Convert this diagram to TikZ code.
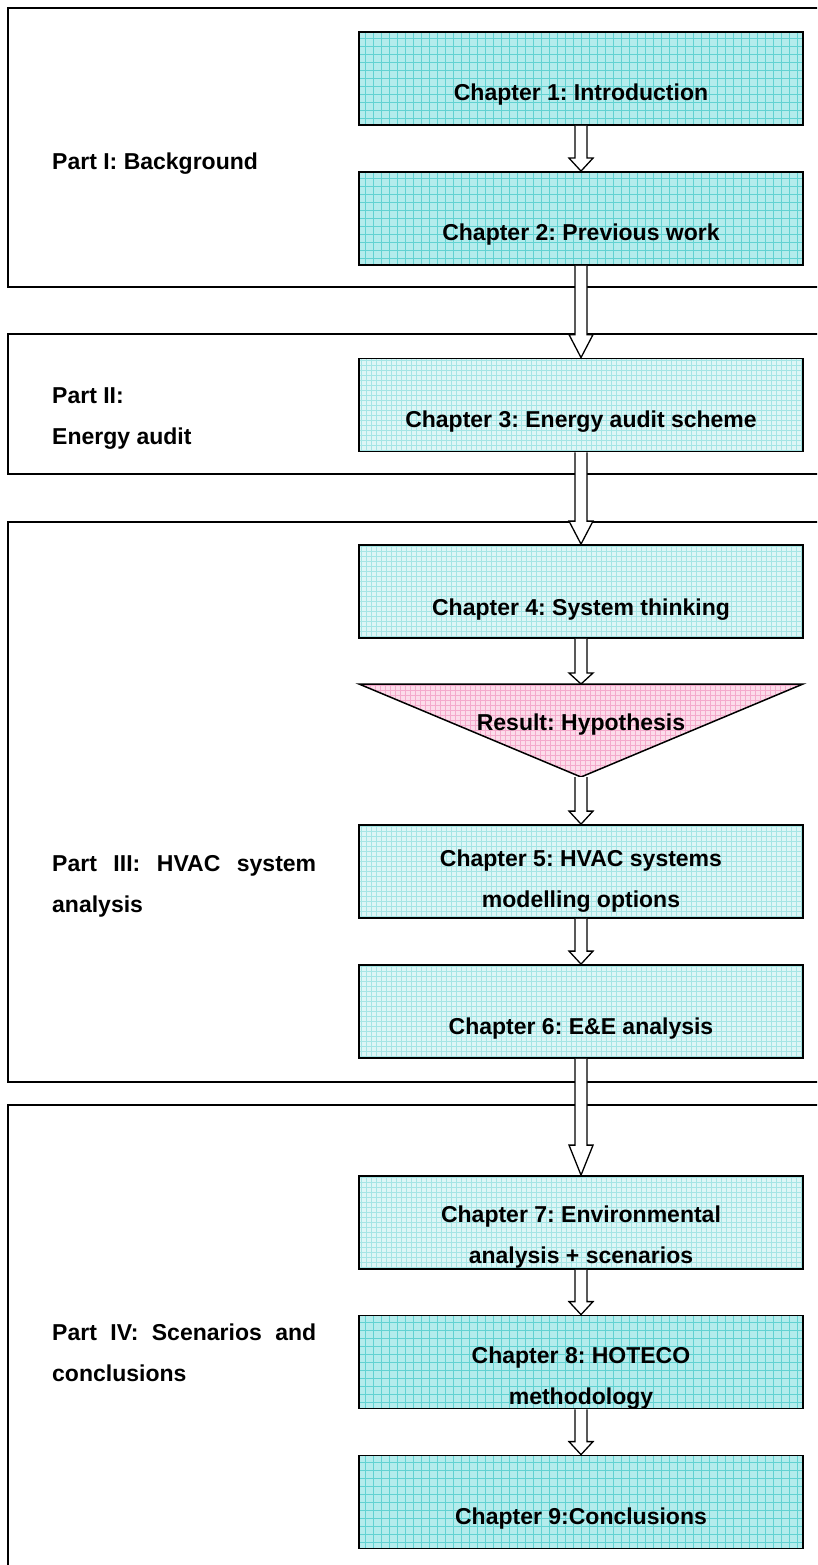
\documentclass[tikz,border=0pt]{standalone}
\usepackage{fontspec}
\setmainfont{Liberation Sans}
\frenchspacing
\usetikzlibrary{calc}
\definecolor{cyanD}{HTML}{B4ECEC}
\definecolor{cyanDg}{HTML}{62D2D2}
\definecolor{cyanL}{HTML}{DDF6F6}
\definecolor{cyanLg}{HTML}{A4E5E5}
\definecolor{pinkF}{HTML}{FCDCEA}
\definecolor{pinkG}{HTML}{F4AACC}
\newcommand{\blockarr}[3]{%
  \draw[blockarrow] let \p1=#1, \p2=#2 in
    (\x1-6pt,\y1) -- (\x1-6pt,\y2+#3) -- (\x1-12pt,\y2+#3) -- (\x1,\y2)
    -- (\x1+12pt,\y2+#3) -- (\x1+6pt,\y2+#3) -- (\x1+6pt,\y1);}
\begin{document}
\begin{tikzpicture}[x=1pt,y=-1pt,
  partbox/.style={draw=black,line width=2pt},
  chbox/.style={rectangle,draw=black,line width=1.8pt,minimum width=444pt,minimum height=93pt,inner sep=0pt},
  darkgrid/.style={fill=cyanD,path picture={\draw[cyanDg,line width=0.9pt] (path picture bounding box.south west) grid[step=8pt] (path picture bounding box.north east);}},
  lightgrid/.style={fill=cyanL,path picture={\draw[cyanLg,line width=0.5pt] (path picture bounding box.south west) grid[step=5pt] (path picture bounding box.north east);}},
  pinkgrid/.style={fill=pinkF,path picture={\draw[pinkG,line width=0.5pt] (path picture bounding box.south west) grid[step=5pt] (path picture bounding box.north east);}},
  chtext/.style={font=\fontsize{23}{41}\selectfont\bfseries,align=center,inner sep=0pt},
  parttext/.style={font=\fontsize{23}{41}\selectfont\bfseries,align=left,inner sep=0pt,anchor=west},
  blockarrow/.style={draw=black,fill=white,line width=1.3pt,line join=miter}
]
\clip (0,0) rectangle (817,1565);
\fill[white] (0,0) rectangle (817,1565);

% part frames
\draw[partbox] (8,8) rectangle (840,287);
\draw[partbox] (8,334) rectangle (840,474);
\draw[partbox] (8,522) rectangle (840,1082);
\draw[partbox] (8,1105) rectangle (840,1600);

% part labels
\node[parttext] (p1) at (52,164) {Part I: Background};
\node[parttext] (p2) at (52,418.5) {Part II:\\Energy audit};
\node[parttext] (p3) at (52,886) {\makebox[264pt][s]{Part III: HVAC system}\\analysis};
\node[parttext] (p4) at (52,1353) {\makebox[264pt][s]{Part IV: Scenarios and}\\conclusions};

% chapter boxes
\node[chbox,darkgrid]  (ch1) at (581,78.5) {};
\node[chbox,darkgrid]  (ch2) at (581,218.5) {};
\node[chbox,lightgrid] (ch3) at (581,405) {};
\node[chbox,lightgrid] (ch4) at (581,591.5) {};
\coordinate (trtop) at (581,684);
\coordinate (trtip) at (581,777);
\coordinate (trl) at (359,684);
\coordinate (trr) at (803,684);
\draw[pinkgrid,line width=1.5pt,line join=miter] (trl) -- (trr) -- (trtip) -- cycle;
\node[chbox,lightgrid] (ch5) at (581,871.5) {};
\node[chbox,lightgrid] (ch6) at (581,1011.5) {};
\node[chbox,lightgrid] (ch7) at (581,1222.5) {};
\node[chbox,darkgrid]  (ch8) at (581,1362) {};
\node[chbox,darkgrid]  (ch9) at (581,1502) {};

% texts
\node[chtext] (ch1t) at (581,95) {Chapter 1: Introduction};
\node[chtext] (ch2t) at (581,235) {Chapter 2: Previous work};
\node[chtext] (ch3t) at (581,422) {Chapter 3: Energy audit scheme};
\node[chtext] (ch4t) at (581,610) {Chapter 4: System thinking};
\node[chtext] (rest) at (581,725) {Result: Hypothesis};
\node[chtext] (ch5t) at (581,881) {Chapter 5: HVAC systems\\modelling options};
\node[chtext] (ch6t) at (581,1029) {Chapter 6: E\&E analysis};
\node[chtext] (ch7t) at (581,1237.5) {Chapter 7: Environmental\\analysis + scenarios};
\node[chtext] (ch8t) at (581,1378) {Chapter 8: HOTECO\\methodology};
\node[chtext] (ch9t) at (581,1519) {Chapter 9:Conclusions};

% arrows
\blockarr{(ch1.south)}{(ch2.north)}{13pt}
\blockarr{(ch2.south)}{(ch3.north)}{23pt}
\blockarr{(ch3.south)}{(ch4.north)}{23pt}
\blockarr{(ch4.south)}{(trtop)}{11pt}
\blockarr{(trtip)}{(ch5.north)}{13pt}
\blockarr{(ch5.south)}{(ch6.north)}{13pt}
\blockarr{(ch6.south)}{(ch7.north)}{30pt}
\blockarr{(ch7.south)}{(ch8.north)}{13pt}
\blockarr{(ch8.south)}{(ch9.north)}{13pt}
\end{tikzpicture}
\end{document}
